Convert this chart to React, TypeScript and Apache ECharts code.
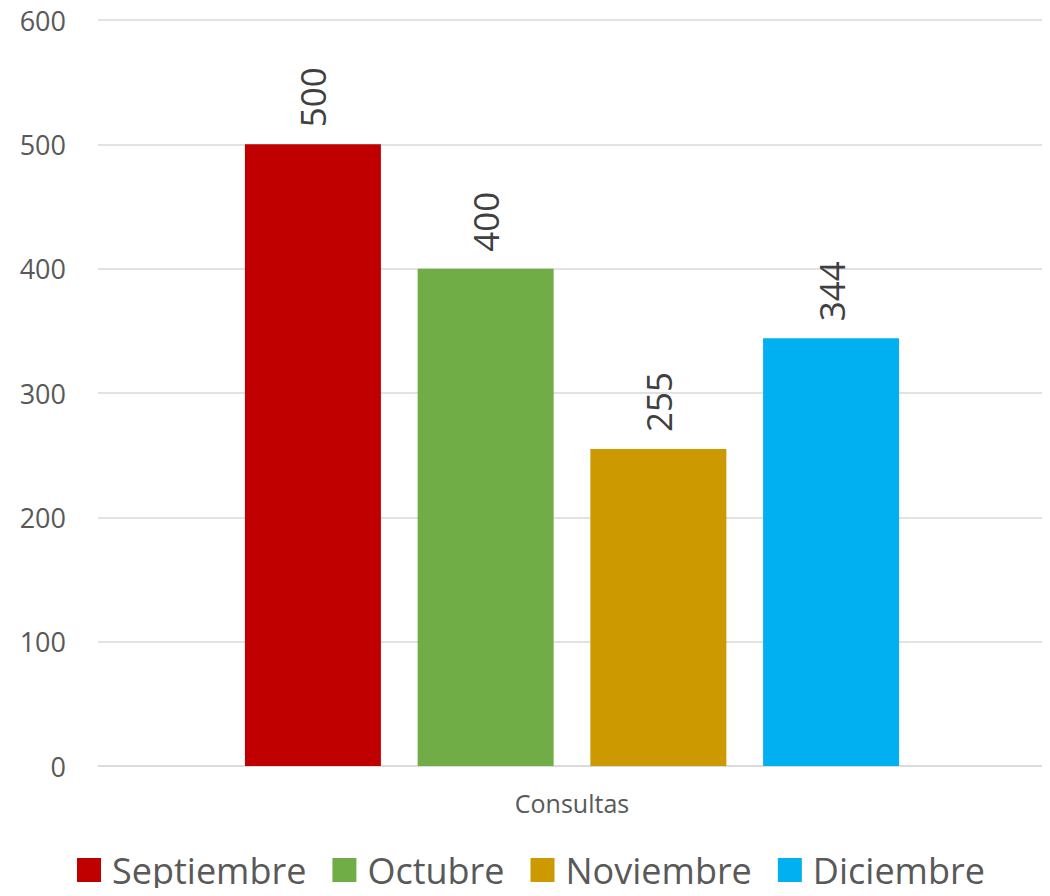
import React, { useEffect, useRef } from "react";
import * as echarts from "echarts";

const categories = ["Consultas"];
const seriesNames = ["Septiembre", "Octubre", "Noviembre", "Diciembre"];
const seriesValues = [[500], [400], [255], [344]];
const seriesColors = ["#C00000", "#70AD47", "#CC9900", "#00B0F0"];
const yTicks = { min: 0, max: 600, interval: 100 };

const FONT = "'Open Sans', sans-serif";

export default function App() {
  const ref = useRef<HTMLDivElement>(null);
  useEffect(() => {
    if (!ref.current) return;
    const chart = echarts.init(ref.current, undefined, { renderer: "svg" });
    chart.setOption({
      animation: false,
      textStyle: { fontFamily: FONT },
      grid: { left: 98, right: 4, top: 20, bottom: 130 },
      legend: {
        bottom: 6,
        left: 77,
        padding: 0,
        itemWidth: 24,
        itemHeight: 24,
        itemGap: 26,
        icon: "rect",
        textStyle: { fontSize: 36, color: "#595959", fontFamily: FONT, padding: [0, 0, 0, 6], lineHeight: 40 },
        data: seriesNames,
      },
      xAxis: {
        type: "category",
        data: categories,
        axisLine: { show: true, lineStyle: { color: "#D9D9D9", width: 1.5 } },
        axisTick: { show: false },
        axisLabel: { fontSize: 25, color: "#595959", margin: 24, fontFamily: FONT },
      },
      yAxis: {
        type: "value",
        min: yTicks.min,
        max: yTicks.max,
        interval: yTicks.interval,
        axisLine: { show: false },
        axisTick: { show: false },
        splitLine: { lineStyle: { color: "#D9D9D9", width: 1.5 } },
        axisLabel: { fontSize: 27, color: "#595959", margin: 32, fontFamily: FONT },
      },
      series: seriesNames.map((name, i) => ({
        name,
        type: "bar",
        data: seriesValues[i],
        barWidth: 136,
        barGap: "27%",
        itemStyle: { color: seriesColors[i] },
        label: {
          show: true,
          position: "top",
          rotate: 90,
          align: "left",
          verticalAlign: "middle",
          distance: 17,
          fontSize: 35,
          color: "#404040",
          fontFamily: FONT,
        },
      })),
    });
    return () => chart.dispose();
  }, []);
  return <div ref={ref} style={{ width: 1050, height: 896, margin: -8 }} />;
}
